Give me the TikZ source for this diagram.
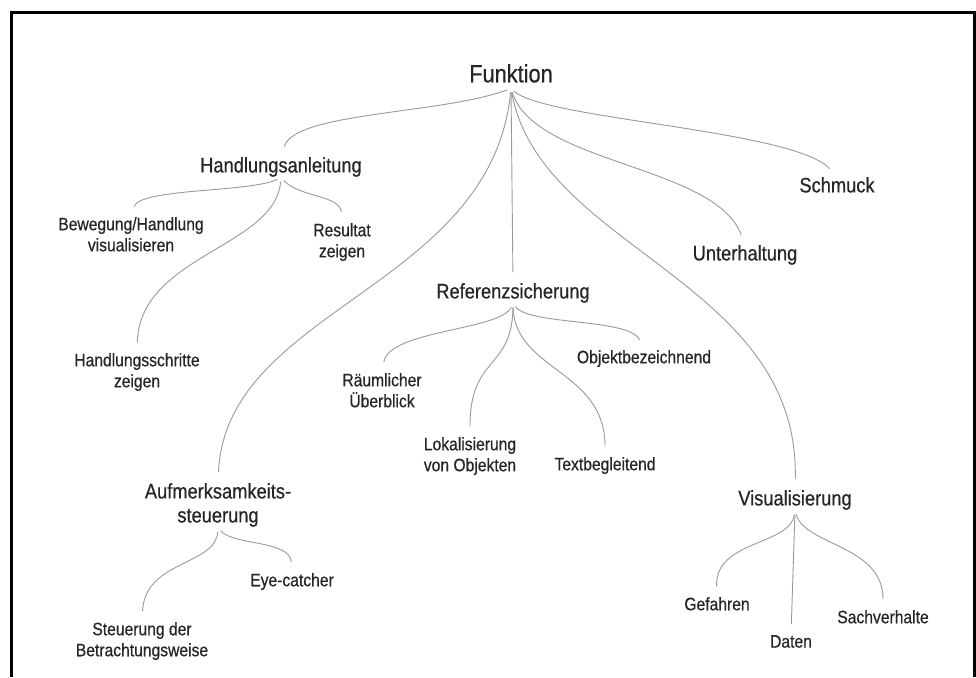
\documentclass[tikz,border=0pt]{standalone}
\usepackage{fontspec}
\setmainfont{Liberation Sans}[FakeStretch=0.87,FakeBold=0.6]
\tikzset{
  topnode/.style={inner sep=0pt, anchor=north, align=center, text=black!85,
    font=\fontsize{25}{30}\selectfont, text depth=6pt},
  midnode/.style={inner sep=0pt, anchor=north, align=center, text=black!85,
    font=\fontsize{21}{24}\selectfont, text depth=5pt},
  leafnode/.style={inner sep=0pt, anchor=north, align=center, text=black!85,
    font=\fontsize{18}{21}\selectfont, text depth=4.5pt},
  link/.style={draw=black!40, line width=0.9pt, shorten <=4pt, shorten >=11pt}
}
\begin{document}
\begin{tikzpicture}[x=1pt,y=1pt]
		\useasboundingbox (0,0) rectangle (976,-677);
		% Rahmen
		\draw[line width=3pt] (11.5,-677) -- (11.5,-12.5) -- (974.5,-12.5) -- (974.5,-677);

		% Wurzel
		\node[topnode] (fk) at (511,-64) {Funktion};

		% Erste Ebene
		\node[midnode] (ha) at (281,-157) {Handlungsanleitung};
		\node[midnode] (rs) at (513,-283) {Referenzsicherung};
		\node[midnode] (uh) at (745,-245) {Unterhaltung};
		\node[midnode] (sc) at (837,-177) {Schmuck};
		\node[midnode] (as) at (218,-483) {Aufmerksamkeits-\\steuerung};
		\node[midnode] (vi) at (795,-490) {Visualisierung};

		% Handlungsanleitung
		\node[leafnode] (bh) at (131,-217) {Bewegung/Handlung\\visualisieren};
		\node[leafnode] (rz) at (342,-223) {Resultat\\zeigen};
		\node[leafnode] (hs) at (137,-353) {Handlungsschritte\\zeigen};

		% Referenzsicherung
		\node[leafnode] (ru) at (382,-373) {Räumlicher\\Überblick};
		\node[leafnode] (lo) at (470,-437) {Lokalisierung\\von Objekten};
		\node[leafnode] (tb) at (605,-457) {Textbegleitend};
		\node[leafnode] (ob) at (644,-350) {Objektbezeichnend};

		% Aufmerksamkeitssteuerung
		\node[leafnode] (sd) at (142,-622) {Steuerung der\\Betrachtungsweise};
		\node[leafnode] (ec) at (292,-573) {Eye-catcher};

		% Visualisierung
		\node[leafnode] (gf) at (717,-597) {Gefahren};
		\node[leafnode] (da) at (791,-635) {Daten};
		\node[leafnode] (sv) at (883,-610) {Sachverhalte};

		% Verbindungen von der Wurzel
		\draw[link] (fk.south) .. controls +(-71,-26) and +(14,45) .. (ha.north);
		\draw[link] (fk.south) .. controls +(34,-31) and +(-42,47) .. (sc.north);
		\draw[link] (fk.south) .. controls +(24,-76) and +(-30,80) .. (uh.north);
		\draw[link] (fk.south) -- (rs.north);
		\draw[link] (fk.south) .. controls +(-20,-200) and +(8,175) .. (as.north);
		\draw[link] (fk.south) .. controls +(29,-161) and +(5,210) .. (vi.north);

		% Verbindungen Handlungsanleitung
		\draw[link] (ha.south) .. controls +(-31,-15) and +(9,29) .. (bh.north);
		\draw[link] (ha.south) .. controls +(19,-20) and +(-2,28) .. (rz.north);
		\draw[link] (ha.south) .. controls +(-6,-70) and +(3,98) .. (hs.north);

		% Verbindungen Referenzsicherung
		\draw[link] (rs.south) .. controls +(-13,-27) and +(7,43) .. (ru.north);
		\draw[link] (rs.south) .. controls +(-1,-67) and +(0,82) .. (lo.north);
		\draw[link] (rs.south) .. controls +(2,-67) and +(0,87) .. (tb.north);
		\draw[link] (rs.south) .. controls +(17,-22) and +(-14,32) .. (ob.north);

		% Verbindungen Aufmerksamkeitssteuerung
		\draw[link] (as.south) .. controls +(-2,-38) and +(3,62) .. (sd.north);
		\draw[link] (as.south) .. controls +(15,-18) and +(-2,33) .. (ec.north);

		% Verbindungen Visualisierung
		\draw[link] (vi.south) .. controls +(-5,-35) and +(-2,57) .. (gf.north);
		\draw[link] (vi.south) -- (da.north);
		\draw[link] (vi.south) .. controls +(10,-35) and +(0,65) .. (sv.north);
	\end{tikzpicture}
\end{document}
